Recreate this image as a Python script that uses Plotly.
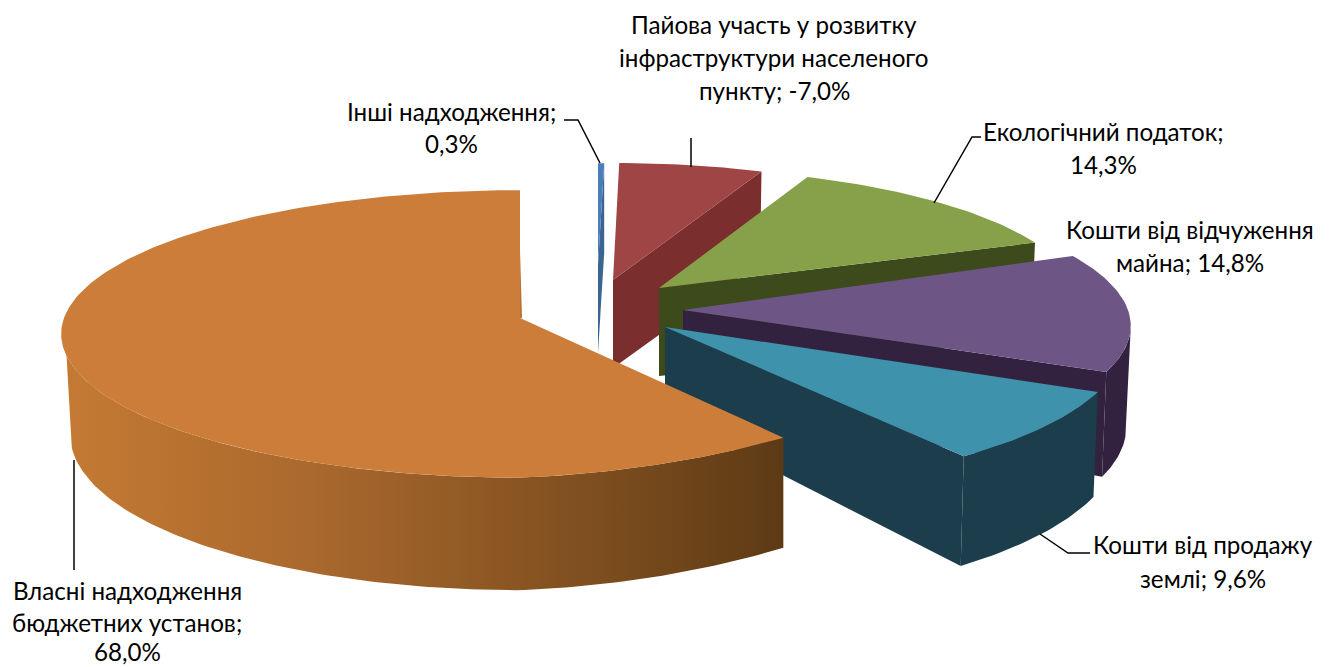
import math
import plotly.graph_objects as go

# ---- data ----
categories = ["Інші надходження", "Пайова участь у розвитку інфраструктури населеного пункту",
              "Екологічний податок", "Кошти від відчуження майна",
              "Кошти від продажу землі", "Власні надходження бюджетних установ"]
values = [0.3, -7.0, 14.3, 14.8, 9.6, 68.0]
label_lines = [
    ["Інші надходження;", "0,3%"],
    ["Пайова участь у розвитку", "інфраструктури населеного", "пункту; -7,0%"],
    ["Екологічний податок;", "14,3%"],
    ["Кошти від відчуження", "майна; 14,8%"],
    ["Кошти від продажу", "землі; 9,6%"],
    ["Власні надходження", "бюджетних установ;", "68,0%"],
]

# ---- styling / view geometry (projection of the tilted exploded pie) ----
top_colors = ["#4A7EB8", "#A04545", "#87A04A", "#6D5585", "#3F92AB", "#CC7D3A"]
wall_colors = ["#3A6591", "#7B2E2E", "#3C4A1C", "#33223F", "#1C3E4C", "#C47A33"]
apex = [(598, 265), (613, 280), (659, 288), (683, 310), (665, 327), (520, 318)]
radius_left = [418, 418, 418, 445, 455, 456]
radius_right = [418, 418, 418, 445, 455, 420]
radius_y = [113, 130, 133, 140, 147, 142]
y_skew = [0, 0, 0, 0, 0, 0.12]
start_nudge = [0, 0, 0, -2, 0, 0]
end_nudge = [0, 0, 1, 0, -2, 0]
# visible silhouette limits of each outer wall (angles along top / bottom rims)
wall_top_lim = [(90, 270), (90, 270), (90, 270), (97, 270), (90, 270), (90, 255)]
wall_bot_lim = [(90, 270), (90, 270), (90, 270), (100, 270), (90, 270), (90, 260)]
persp = 0.111
depth = 100
shrink_left = 0.98
shrink_right = [0.99, 0.99, 0.99, 0.99, 0.99, 1.0]
label_pos = [[(451, 111), (451, 143)],
             [(774, 24), (774, 57), (774, 90)],
             [(1103, 131), (1103, 164)],
             [(1190, 229), (1190, 262)],
             [(1203, 544), (1203, 578)],
             [(127, 590), (127, 622), (127, 651)]]
leaders = [[(564, 120), (578, 120), (600, 163)],
           [(691, 138), (691, 167)],
           [(981, 137), (972, 137), (934, 203)],
           [(1090, 553), (1068, 553), (1040, 534)],
           [(74, 460), (74, 570)]]
FONT = "Lato, Carlito, Open Sans, sans-serif"
FS = 24.2


def top_pt(i, th):
    u, v = math.sin(math.radians(th)), math.cos(math.radians(th))
    s = 1 / (1 + persp * v)
    r = radius_right[i] if u >= 0 else radius_left[i]
    ry = radius_y[i] * (1 - y_skew[i] * max(0, u))
    return apex[i][0] + r * u * s, apex[i][1] - ry * v * s, s


def bot_pt(i, th):
    x, y, s = top_pt(i, th)
    k = shrink_right[i] if x >= apex[i][0] else shrink_left
    return apex[i][0] + (x - apex[i][0]) * k, y + depth * s


fig = go.Figure()


def poly(pts, color=None, grad=None):
    xs = [p[0] for p in pts] + [pts[0][0]]
    ys = [p[1] for p in pts] + [pts[0][1]]
    kw = dict(fillgradient=grad) if grad else dict(fillcolor=color)
    fig.add_trace(go.Scatter(x=xs, y=ys, mode="lines", fill="toself", line=dict(width=0),
                             hoverinfo="skip", showlegend=False, **kw))


def arc(a, b):
    m = max(4, int(b - a))
    return [a + (b - a) * k / m for k in range(m + 1)]


total = sum(abs(v) for v in values)
start = 0.0
for i, val in enumerate(values):
    sweep = abs(val) / total * 360
    th0 = start + start_nudge[i]
    th1 = start + sweep + end_nudge[i]
    ths = arc(th0, th1)
    # outer wall (front half only)
    ta, tb = max(th0, wall_top_lim[i][0]), min(th1, wall_top_lim[i][1])
    ba, bb = max(th0, wall_bot_lim[i][0]), min(th1, wall_bot_lim[i][1])
    if tb > ta:
        pts = [top_pt(i, t)[:2] for t in arc(ta, tb)] + [bot_pt(i, t) for t in reversed(arc(ba, bb))]
        if i == 5:
            poly(pts, grad=dict(type="horizontal",
                                colorscale=[[0, "#C47A33"], [0.35, "#A9682D"], [0.75, "#7C4D1E"], [1, "#5D3A15"]]))
        else:
            poly(pts, wall_colors[i])
    # radial cut wall on the clockwise edge
    if i < 5:
        ox, oy, s = top_pt(i, th1)
        bx, by = bot_pt(i, th1)
        ax, ay = apex[i]
        poly([(ax, ay), (ox, oy), (bx, by), (ax, ay + depth * 0.88)], wall_colors[i])
    else:
        ox, oy, s = top_pt(i, 360)
        ax, ay = apex[i]
        poly([(ox, oy), (ox, oy + 60), (ax + 2, ay), (ax - 6, ay)], "#B9722F")
    # top face
    poly([apex[i]] + [top_pt(i, t)[:2] for t in ths], top_colors[i])
    start += sweep

for seg in leaders:
    fig.add_trace(go.Scatter(x=[p[0] for p in seg], y=[p[1] for p in seg], mode="lines",
                             line=dict(color="black", width=1.5), hoverinfo="skip", showlegend=False))

for lines, poss in zip(label_lines, label_pos):
    for t, (x, y) in zip(lines, poss):
        fig.add_annotation(x=x, y=y, text=t, showarrow=False, xanchor="center", yanchor="middle",
                           font=dict(family=FONT, size=FS, color="black"))

fig.update_xaxes(range=[0, 1331], visible=False, fixedrange=True)
fig.update_yaxes(range=[667, 0], visible=False, fixedrange=True)
fig.update_layout(width=1331, height=667, margin=dict(l=0, r=0, t=0, b=0),
                  paper_bgcolor="white", plot_bgcolor="white", showlegend=False)
fig.write_html("out.html", config={"displayModeBar": False},
               post_script="document.body.style.margin='0';document.body.style.overflow='hidden';")
